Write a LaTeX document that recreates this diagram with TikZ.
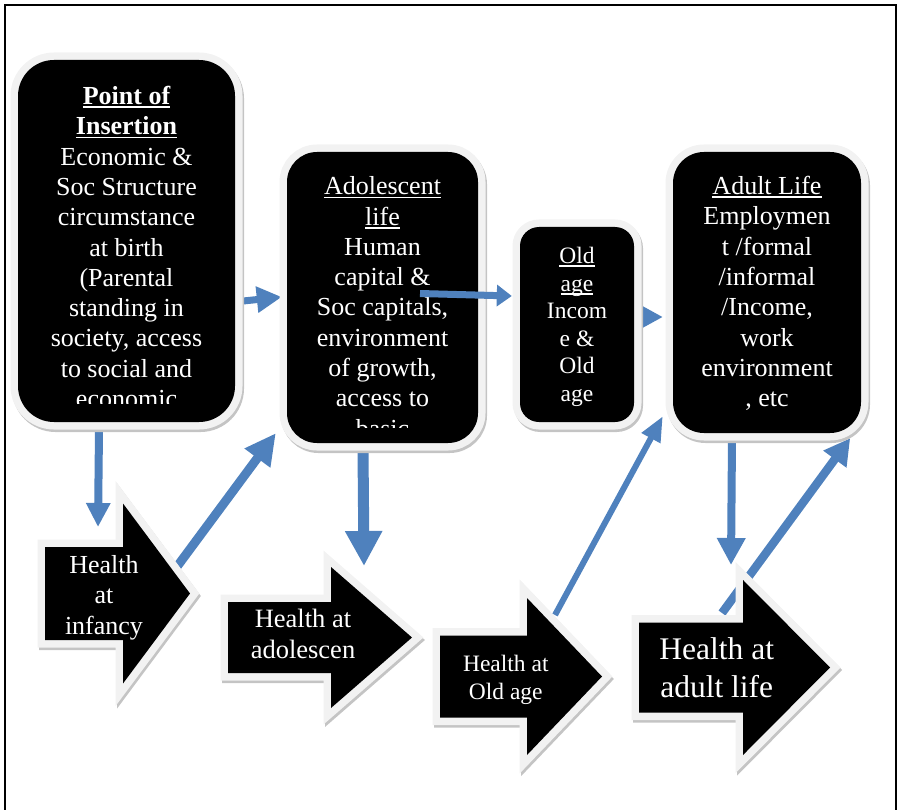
\documentclass[tikz,border=0pt]{standalone}
\usepackage{fontspec}
\setmainfont{Liberation Serif}
\usetikzlibrary{arrows.meta,backgrounds}
\definecolor{linkblue}{RGB}{79,129,189}
\definecolor{glowgrey}{RGB}{242,242,242}
\definecolor{shadegrey}{RGB}{196,196,196}
\newcommand{\stageul}[1]{\setbox0\hbox{#1}\rlap{\rule[-3.5pt]{\wd0}{1.6pt}}\box0}

\begin{document}
\begin{tikzpicture}[x=1pt, y=-1pt,
    stage/.style={fill=black, inner sep=0pt,
        preaction={draw=shadegrey, line width=15pt, transform canvas={xshift=1.5pt, yshift=-2.5pt}},
        preaction={draw=glowgrey, line width=15pt}},
    healthshape/.style={fill=black, line join=miter,
        preaction={draw=shadegrey, line width=15pt, line join=miter, transform canvas={xshift=1.5pt, yshift=-2.5pt}},
        preaction={draw=glowgrey, line width=15pt, line join=miter}},
    stagetext/.style={text=white, align=center, inner sep=0pt, anchor=north,
        font=\fontsize{26}{30.3}\selectfont},
    link/.style n args={3}{draw=linkblue, line width=#1, -{Triangle[width=#2, length=#3]}}
]
\useasboundingbox (0,0) rectangle (901,810);

% frame
\draw[line width=2pt] (5,815) -- (5,5) -- (896,5) -- (896,815);

% life stages
\node[stage, minimum width=217pt, minimum height=362pt, rounded corners=36pt] (insert) at (126.5,241) {};
\node[stage, minimum width=191pt, minimum height=291pt, rounded corners=30pt] (adol) at (382.5,297.5) {};
\node[stage, minimum width=114pt, minimum height=195pt, rounded corners=19pt] (oldage) at (577,324.5) {};
\node[stage, minimum width=188pt, minimum height=281pt, rounded corners=31pt] (adult) at (767,292.5) {};

\begin{scope}
  \clip (18,60) rectangle (235,403);
  \node[stagetext] (insertText) at (126.5,86) {\textbf{\stageul{Point of}}\\\textbf{\stageul{Insertion}}\\Economic \&\\Soc Structure\\circumstance\\at birth\\(Parental\\standing in\\society, access\\to social and\\economic};
\end{scope}
\begin{scope}
  \clip (287,152) rectangle (478,427);
  \node[stagetext] (adolText) at (382.5,176.5) {\stageul{Adolescent}\\\stageul{life}\\Human\\capital \&\\Soc capitals,\\environment\\of growth,\\access to\\basic};
\end{scope}
\node[stagetext, font=\fontsize{23.5}{27.6}\selectfont] (oldageText) at (577,247) {\stageul{Old}\\\stageul{age}\\Incom\\e \&\\Old\\age};
\node[stagetext] (adultText) at (767,176) {\stageul{Adult Life}\\Employmen\\t /formal\\/informal\\/Income,\\work\\environment\\, etc};

% health arrows
\coordinate (infArrow) at (45,593.5);
\coordinate (adoArrow) at (228,637.5);
\coordinate (oldArrow) at (440,676.5);
\coordinate (aduArrow) at (639,667.5);
\path[healthshape, shift={(infArrow)}] (0,-46.5) -- (78,-46.5) -- (78,-90) -- (145,0) -- (78,90) -- (78,46.5) -- (0,46.5) -- cycle;
\path[healthshape, shift={(adoArrow)}] (0,-35.5) -- (103,-35.5) -- (103,-70.5) -- (184,0) -- (103,70.5) -- (103,35.5) -- (0,35.5) -- cycle;
\path[healthshape, shift={(oldArrow)}] (0,-41) -- (87,-41) -- (87,-78.5) -- (162,0) -- (87,78.5) -- (87,41) -- (0,41) -- cycle;
\path[healthshape, shift={(aduArrow)}] (0,-45) -- (104,-45) -- (104,-87.5) -- (191,0) -- (104,87.5) -- (104,45) -- (0,45) -- cycle;

\node[stagetext] (infText) at (104,555.2) {Health\\at\\infancy};
\node[stagetext, font=\fontsize{26.5}{31}\selectfont] (adoText) at (303,609) {Health at\\adolescen};
\node[stagetext, font=\fontsize{23.5}{27.5}\selectfont] (oldText) at (505.8,655) {Health at\\Old age};
\node[stagetext, font=\fontsize{31.5}{38}\selectfont] (aduText) at (716.7,637.5) {Health at\\adult life};

% links behind the shapes
\begin{scope}[on background layer]
  \draw[link={7pt}{25pt}{25pt}] ([shift={(8,60)}]insert.east) -- ([shift={(-5,-0.5)}]adol.west);
  \draw[link={8pt}{23pt}{24pt}] ([shift={(-27.5,8)}]insert.south) -- ([shift={(53,-66.5)}]infArrow);
  \draw[link={9pt}{30pt}{31pt}] ([shift={(131,-25.5)}]infArrow) -- ([shift={(-11,-10)}]adol.south west);
  \draw[link={11pt}{35pt}{35pt}] ([shift={(-19.5,6)}]adol.south) -- ([shift={(136,-71.5)}]adoArrow);
  \draw[link={6pt}{20pt}{20pt}] ([shift={(0,-7.5)}]oldage.center) -- ([shift={(-10,24.5)}]adult.west);
  \draw[link={6pt}{20pt}{25pt}] ([shift={(115,-61.5)}]oldArrow) -- ([shift={(-10,-17)}]adult.south west);
  \draw[link={8pt}{27pt}{27pt}] ([shift={(-35,5)}]adult.south) -- ([shift={(92,-102.5)}]aduArrow);
  \draw[link={8.5pt}{27pt}{26pt}] ([shift={(83,-54.5)}]aduArrow) -- ([shift={(-11,5)}]adult.south east);
\end{scope}
\draw[link={7pt}{21pt}{15pt}] ([shift={(37.5,-4)}]adol.center) -- ([shift={(-8,-28.5)}]oldage.west);

\end{tikzpicture}
\end{document}
